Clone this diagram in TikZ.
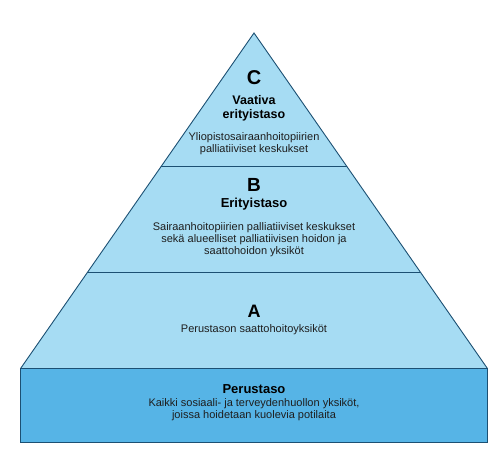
\documentclass[tikz,border=0pt]{standalone}
\usepackage{fontspec}
\setmainfont{Liberation Sans}
\definecolor{tri}{RGB}{166,220,243}
\definecolor{basefill}{RGB}{86,180,230}
\definecolor{edge}{RGB}{28,80,115}
\definecolor{txt}{RGB}{30,30,30}
\begin{document}
\begin{tikzpicture}[x=1pt,y=-1pt,
  letter/.style={inner sep=0pt,font=\bfseries\fontsize{#1}{#1}\selectfont,text=black},
  head/.style={inner sep=0pt,align=center,font=\bfseries\fontsize{#1}{14}\selectfont,text=black},
  desc/.style={inner sep=0pt,align=center,font=\fontsize{11}{12}\selectfont,text=txt},
  layer/.style={draw=edge,line width=0.9pt,line join=miter}]
\useasboundingbox (0,0) rectangle (498,453);
\coordinate (apex) at (254,33);
\coordinate (bl) at (20.7,368.3);
\coordinate (br) at (487.3,368.3);
\coordinate (cbL) at (160.9,166.7);
\coordinate (cbR) at (347.1,166.7);
\coordinate (baL) at (87.3,272.3);
\coordinate (baR) at (420.7,272.3);
\coordinate (bb) at (487.3,442.3);
\fill[tri] (apex) -- (bl) -- (br) -- cycle;
\draw[edge,line width=0.7pt] (cbL) -- (cbR);
\draw[edge,line width=0.7pt] (baL) -- (baR);
\draw[layer] (bl) -- (apex) -- (br);
\draw[layer,fill=basefill] (bl) rectangle (bb);
\node[letter=20] (c) at (254,78) {C};
\node[head=12.5] (ch) at (254,108) {Vaativa\\erityistaso};
\node[desc,font=\fontsize{11}{11.5}\selectfont] (cd) at (254,143.5) {Yliopistosairaanhoitopiirien\\palliatiiviset keskukset};
\node[letter=19] (b) at (254,185) {B};
\node[head=13] (bh) at (254,204) {Erityistaso};
\node[desc] (bd) at (254,240) {Sairaanhoitopiirien palliatiiviset keskukset\\sekä alueelliset palliatiivisen hoidon ja\\saattohoidon yksiköt};
\node[letter=18] (a) at (254,311) {A};
\node[desc] (ad) at (254,330) {Perustason saattohoitoyksiköt};
\node[head=13] (ph) at (254,389) {Perustaso};
\node[desc,font=\fontsize{11}{11.5}\selectfont] (pd) at (254,409.5) {Kaikki sosiaali- ja terveydenhuollon yksiköt,\\joissa hoidetaan kuolevia potilaita};
\end{tikzpicture}
\end{document}
